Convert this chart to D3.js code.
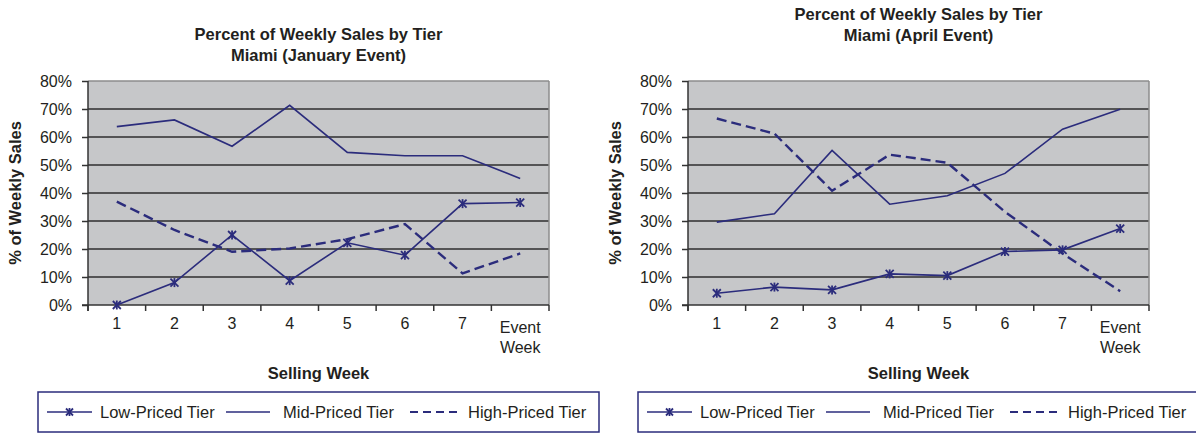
<!DOCTYPE html>
<html>
<head>
<meta charset="utf-8">
<script src="https://cdn.jsdelivr.net/npm/d3@7/dist/d3.min.js"></script>
<style>
  body { margin: 0; background: #fff; }
  text { font-family: "Liberation Sans", Arial, sans-serif; fill: #231f20; }
</style>
</head>
<body>
<div id="chart"></div>
<script>
/* global d3 */

// 横軸のカテゴリ
var weeks = ['1', '2', '3', '4', '5', '6', '7', 'Event Week'];

// 凡例
var tiers = ['Low-Priced Tier', 'Mid-Priced Tier', 'High-Priced Tier'];

// 縦軸の目盛り
var yTicks = [0, 0.1, 0.2, 0.3, 0.4, 0.5, 0.6, 0.7, 0.8];

// タイトル
var janTitle = ['Percent of Weekly Sales by Tier', 'Miami (January Event)'];
var aprTitle = ['Percent of Weekly Sales by Tier', 'Miami (April Event)'];

// 1月イベント
var janLow = [0.000, 0.080, 0.250, 0.087, 0.222, 0.178, 0.362, 0.366];
var janMid = [0.637, 0.661, 0.567, 0.713, 0.545, 0.533, 0.533, 0.452];
var janHigh = [0.369, 0.268, 0.190, 0.202, 0.235, 0.289, 0.113, 0.184];

// 4月イベント
var aprLow = [0.042, 0.064, 0.054, 0.111, 0.105, 0.191, 0.197, 0.273];
var aprMid = [0.296, 0.326, 0.552, 0.360, 0.390, 0.470, 0.628, 0.699];
var aprHigh = [0.666, 0.612, 0.408, 0.537, 0.508, 0.333, 0.184, 0.049];

(function() {
  var navy = '#2b2c7c';

  // 描画領域
  var svg = d3.select('#chart').append('svg')
    .attr('width', 1196).attr('height', 434);

  // プロット領域（左のチャート基準）
  var plot = { left: 88, right: 549, top: 81, bottom: 305 };

  var x = d3.scaleBand().domain(weeks).range([plot.left, plot.right]);
  var y = d3.scaleLinear().domain([0, 0.8]).range([plot.bottom, plot.top]);

  var line = d3.line()
    .x(function(d, i) { return x(weeks[i]) + x.bandwidth() / 2; })
    .y(function(d) { return y(d); });

  // アスタリスクのマーカー
  function star(sel, cx, cy, r) {
    var g = sel.append('g').attr('transform', 'translate(' + cx + ',' + cy + ')')
      .attr('stroke', navy).attr('stroke-width', 1.8);
    g.append('line').attr('x1', -r).attr('y1', -r).attr('x2', r).attr('y2', r);
    g.append('line').attr('x1', -r).attr('y1', r).attr('x2', r).attr('y2', -r);
    g.append('line').attr('x1', 0).attr('y1', -r - 0.5).attr('x2', 0).attr('y2', r + 0.5);
  }

  function drawChart(offsetX, titleY, title, low, mid, high) {
    var g = svg.append('g').attr('transform', 'translate(' + offsetX + ',0)');

    // タイトル
    g.selectAll('.title').data(title).enter()
      .append('text')
      .attr('x', (plot.left + plot.right) / 2)
      .attr('y', function(d, i) { return titleY + i * 21; })
      .attr('text-anchor', 'middle')
      .style('font-size', '16.5px').style('font-weight', 'bold')
      .text(function(d) { return d; });

    // 背景
    g.append('rect')
      .attr('x', plot.left).attr('y', plot.top)
      .attr('width', plot.right - plot.left).attr('height', plot.bottom - plot.top)
      .attr('fill', '#c6c7c9');

    // グリッド
    g.selectAll('.grid').data(yTicks.slice(1)).enter()
      .append('line')
      .attr('x1', plot.left).attr('x2', plot.right)
      .attr('y1', function(d) { return y(d); }).attr('y2', function(d) { return y(d); })
      .attr('stroke', function(d) { return d === 0.8 ? '#8c8c8c' : '#2e2e2e'; })
      .attr('stroke-width', 1.3);

    g.append('line')
      .attr('x1', plot.right).attr('x2', plot.right)
      .attr('y1', plot.top).attr('y2', plot.bottom)
      .attr('stroke', '#8c8c8c').attr('stroke-width', 1.5);

    // 縦軸
    var yAxis = g.append('g')
      .attr('transform', 'translate(' + plot.left + ',0)')
      .call(d3.axisLeft(y).tickValues(yTicks).tickFormat(d3.format('.0%')).tickSize(6).tickPadding(10));
    yAxis.selectAll('text').style('font-size', '16px').attr('fill', '#231f20');

    // 横軸（ラベルのみ）
    var xAxis = g.append('g')
      .attr('transform', 'translate(0,' + plot.bottom + ')')
      .call(d3.axisBottom(x).tickSize(0).tickPadding(12.5));
    xAxis.selectAll('text').style('font-size', '16px').attr('fill', '#231f20')
      .each(function(d) {
        var words = d.split(' ');
        if (words.length < 2) return;
        var t = d3.select(this).text(null).attr('dy', null).attr('y', null);
        words.forEach(function(w, i) {
          t.append('tspan').attr('x', 0).attr('y', 28 + i * 20).text(w);
        });
      });

    // 軸線と区切りの目盛り
    yAxis.select('.domain').remove();
    xAxis.select('.domain').remove();
    var bounds = weeks.map(function(d) { return x(d); }).concat([plot.right]);
    g.selectAll('.xtick').data(bounds).enter()
      .append('line')
      .attr('x1', function(d) { return d; }).attr('x2', function(d) { return d; })
      .attr('y1', plot.bottom).attr('y2', plot.bottom + 6)
      .attr('stroke', '#333').attr('stroke-width', 1.5);
    g.append('line')
      .attr('x1', plot.left - 6).attr('x2', plot.right)
      .attr('y1', plot.bottom).attr('y2', plot.bottom)
      .attr('stroke', '#333').attr('stroke-width', 1.5);
    g.append('line')
      .attr('x1', plot.left).attr('x2', plot.left)
      .attr('y1', plot.top).attr('y2', plot.bottom + 6)
      .attr('stroke', '#333').attr('stroke-width', 1.5);
    yAxis.selectAll('.tick line').attr('stroke', '#333').attr('stroke-width', 1.5);

    // 軸タイトル
    g.append('text')
      .attr('x', (plot.left + plot.right) / 2).attr('y', 379)
      .attr('text-anchor', 'middle')
      .style('font-size', '16.5px').style('font-weight', 'bold')
      .text('Selling Week');
    g.append('text')
      .attr('transform', 'translate(21,' + (plot.top + plot.bottom) / 2 + ') rotate(-90)')
      .attr('text-anchor', 'middle')
      .style('font-size', '16.5px').style('font-weight', 'bold')
      .text('% of Weekly Sales');

    // 折れ線
    g.append('path').datum(high).attr('d', line)
      .attr('fill', 'none').attr('stroke', navy).attr('stroke-width', 2.4)
      .attr('stroke-dasharray', '10,5');
    g.append('path').datum(mid).attr('d', line)
      .attr('fill', 'none').attr('stroke', navy).attr('stroke-width', 1.6);
    g.append('path').datum(low).attr('d', line)
      .attr('fill', 'none').attr('stroke', navy).attr('stroke-width', 1.6);
    low.forEach(function(d, i) {
      star(g, x(weeks[i]) + x.bandwidth() / 2, y(d), 4);
    });

    // 凡例
    var legend = g.append('g');
    legend.append('rect')
      .attr('x', 38).attr('y', 392).attr('width', 561).attr('height', 40)
      .attr('fill', '#fff').attr('stroke', navy).attr('stroke-width', 1.5);
    var items = [
      { x1: 47, x2: 92, tx: 100, dash: null, w: 1.6, marker: true },
      { x1: 226, x2: 270, tx: 283, dash: null, w: 1.6, marker: false },
      { x1: 410, x2: 457, tx: 468, dash: '8,5', w: 2.2, marker: false }
    ];
    items.forEach(function(it, i) {
      legend.append('line')
        .attr('x1', it.x1).attr('x2', it.x2).attr('y1', 412).attr('y2', 412)
        .attr('stroke', navy).attr('stroke-width', it.w)
        .attr('stroke-dasharray', it.dash);
      if (it.marker) star(legend, (it.x1 + it.x2) / 2, 412, 3.5);
      legend.append('text')
        .attr('x', it.tx).attr('y', 418)
        .style('font-size', '16.5px')
        .text(tiers[i]);
    });
  }

  drawChart(0, 40, janTitle, janLow, janMid, janHigh);
  drawChart(600, 20, aprTitle, aprLow, aprMid, aprHigh);
})();
</script>
</body>
</html>
